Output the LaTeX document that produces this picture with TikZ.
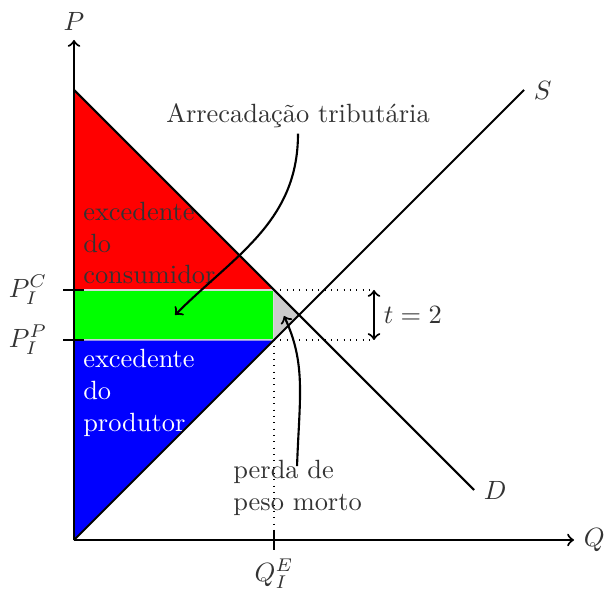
\documentclass[tikz,border=0pt]{standalone}
\usepackage{tikz}

\begin{document}
\begin{tikzpicture}[x=0.333cm, y=0.333cm,
    txt/.style={text=black!80},
    area/.style={draw=black!15, line width=0.4pt},
    curve/.style={thick, line width=0.8pt}]
  \useasboundingbox (-2.96,-2.2) rectangle (21.36,21.6);
  % points of the market
  \coordinate (O)  at (0,0);
  \coordinate (Dt) at (0,18);
  \coordinate (Pc) at (0,10);
  \coordinate (Pp) at (0,8);
  \coordinate (C)  at (8,10);
  \coordinate (E)  at (8,8);
  \coordinate (X)  at (9,9);
  \coordinate (Qe) at (8,0);
  % surpluses
  \fill[red, area]   (Dt) -- (Pc) -- (C) -- cycle;
  \fill[green, area] (Pc) rectangle (E);
  \fill[blue, area]  (Pp) -- (E) -- (O) -- cycle;
  \fill[black!20]    (C) -- (E) -- (X) -- cycle;
  \node[txt, anchor=west, align=left] (cons) at (0,11.88)
    {excedente\\do\\consumidor};
  \node[text=white, anchor=west, align=left] (prod) at (0,5.88)
    {excedente\\do\\produtor};
  % tax wedge
  \coordinate (t1) at (12,10);
  \coordinate (t2) at (12,8);
  \draw[dotted] (C) -- (t1);
  \draw[dotted] (E) -- (t2);
  \draw[dotted] (E) -- (Qe);
  \draw[thick, <->] (t1) -- (t2) node[txt, midway, right] (t) {$t=2$};
  % supply and demand
  \draw[thick] (O) -- (18,18) node[txt, right] (S) {$S$};
  \draw[thick] (Dt) -- (16,2) node[txt, right] (D) {$D$};
  % axes
  \draw[thick, ->] (O) -- (0,20) node[txt, above] (P) {$P$};
  \draw[thick, ->] (O) -- (20,0) node[txt, right] (Q) {$Q$};
  \draw (-0.44,10) -- (0.4,10);
  \draw (-0.44,8) -- (0.4,8);
  \draw (8,-0.4) -- (8,0.4);
  \node[txt, anchor=east] (lPc) at (-0.7,10) {$P_I^C$};
  \node[txt, anchor=east] (lPp) at (-0.7,8) {$P_I^P$};
  \node[txt, below] (lQe) at (8,-0.4) {$Q_I^E$};
  % annotations
  \node[txt] (arrec) at (8.96,16.96) {Arrecadação tributária};
  \coordinate (g) at (4.04,9);
  \draw[curve, ->, shorten <=-0.5mm] (arrec.south) to[out=-90, in=45] (g);
  \node[txt, anchor=west, align=left] (perda) at (6.0,2.08)
    {perda de\\peso morto};
  \coordinate (h) at (8.4,8.96);
  \draw[curve, ->, shorten <=-2mm] (perda.north) to[out=88, in=-65] (h);
\end{tikzpicture}
\end{document}
